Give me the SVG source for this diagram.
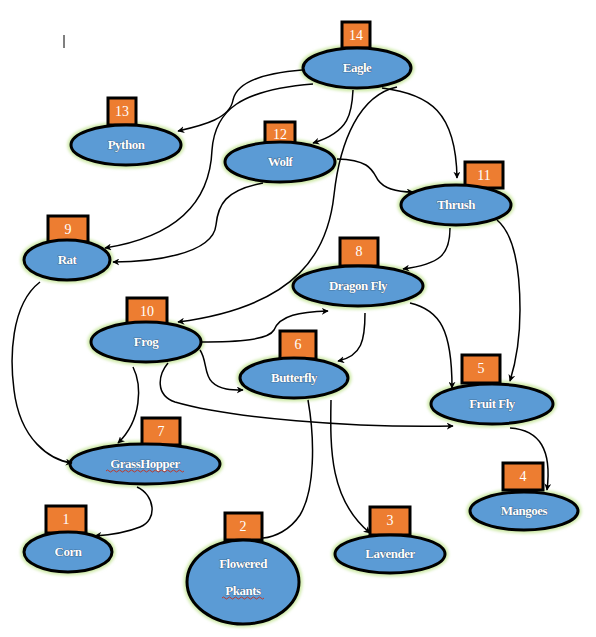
<svg xmlns="http://www.w3.org/2000/svg" width="596" height="637" viewBox="0 0 596 637">
  <style>
    .halo { fill: none; stroke: #cde9a6; stroke-width: 7; filter: url(#soft); }
    .oval { fill: #5b9bd5; stroke: #000; stroke-width: 3; }
    .tag { fill: #ed7d31; stroke: #000; stroke-width: 3; }
    .num { font-family: "Liberation Serif", serif; font-size: 14px; fill: #fff; text-anchor: middle; }
    .name { font-family: "Liberation Serif", serif; font-size: 13px; font-weight: bold; fill: #fff; text-anchor: middle; stroke: #2c4d70; stroke-width: 0.7; paint-order: stroke; letter-spacing: -0.5px; }
    .edge { fill: none; stroke: #000; stroke-width: 1.5; marker-end: url(#arrow); }
    .plain { fill: none; stroke: #000; stroke-width: 1.5; }
    .squiggle { fill: none; stroke: #c0392b; stroke-width: 1; }
  </style>
  <defs>
    <filter id="soft" x="-20%" y="-40%" width="140%" height="180%">
      <feGaussianBlur stdDeviation="1.5"/>
    </filter>
    <marker id="arrow" viewBox="0 0 10 10" refX="9" refY="5" markerWidth="7" markerHeight="7" markerUnits="userSpaceOnUse" orient="auto">
      <path d="M0,0 L10,5 L0,10 L3,5 Z" fill="#000"/>
    </marker>
  </defs>

  <rect width="596" height="637" fill="#fff"/>
  <line x1="64" y1="35" x2="64" y2="48" stroke="#000" stroke-width="1"/>

  <g id="eagle">
    <ellipse class="halo" cx="357" cy="68" rx="54" ry="20"/>
    <rect class="tag" x="342" y="22" width="28" height="26"/>
    <text class="num" x="356" y="40">14</text>
    <ellipse class="oval" cx="357" cy="68" rx="54" ry="20"/>
    <text class="name" x="357" y="72">Eagle</text>
  </g>

  <g id="python">
    <ellipse class="halo" cx="126" cy="145" rx="55" ry="20"/>
    <rect class="tag" x="108" y="98" width="28" height="27"/>
    <text class="num" x="122" y="116">13</text>
    <ellipse class="oval" cx="126" cy="145" rx="55" ry="20"/>
    <text class="name" x="126" y="149">Python</text>
  </g>

  <g id="wolf">
    <ellipse class="halo" cx="280" cy="162" rx="55" ry="20"/>
    <rect class="tag" x="265" y="122" width="30" height="25"/>
    <text class="num" x="280" y="139">12</text>
    <ellipse class="oval" cx="280" cy="162" rx="55" ry="20"/>
    <text class="name" x="280" y="166">Wolf</text>
  </g>

  <g id="thrush">
    <ellipse class="halo" cx="456" cy="205" rx="55" ry="20"/>
    <rect class="tag" x="465" y="162" width="38" height="26"/>
    <text class="num" x="484" y="180">11</text>
    <ellipse class="oval" cx="456" cy="205" rx="55" ry="20"/>
    <text class="name" x="456" y="209">Thrush</text>
  </g>

  <g id="rat">
    <ellipse class="halo" cx="67" cy="260" rx="43" ry="20"/>
    <rect class="tag" x="48" y="216" width="40" height="26"/>
    <text class="num" x="68" y="234">9</text>
    <ellipse class="oval" cx="67" cy="260" rx="43" ry="20"/>
    <text class="name" x="67" y="264">Rat</text>
  </g>

  <g id="dragonfly">
    <ellipse class="halo" cx="358" cy="286" rx="65" ry="20"/>
    <rect class="tag" x="340" y="238" width="38" height="28"/>
    <text class="num" x="359" y="256">8</text>
    <ellipse class="oval" cx="358" cy="286" rx="65" ry="20"/>
    <text class="name" x="358" y="290">Dragon Fly</text>
  </g>

  <g id="frog">
    <ellipse class="halo" cx="146" cy="342" rx="55" ry="20"/>
    <rect class="tag" x="127" y="298" width="40" height="26"/>
    <text class="num" x="147" y="316">10</text>
    <ellipse class="oval" cx="146" cy="342" rx="55" ry="20"/>
    <text class="name" x="146" y="346">Frog</text>
  </g>

  <g id="butterfly">
    <ellipse class="halo" cx="294" cy="378" rx="54" ry="20"/>
    <rect class="tag" x="280" y="331" width="36" height="28"/>
    <text class="num" x="298" y="349">6</text>
    <ellipse class="oval" cx="294" cy="378" rx="54" ry="20"/>
    <text class="name" x="294" y="382">Butterfly</text>
  </g>

  <g id="fruitfly">
    <ellipse class="halo" cx="492" cy="404" rx="61" ry="20"/>
    <rect class="tag" x="462" y="355" width="38" height="28"/>
    <text class="num" x="481" y="373">5</text>
    <ellipse class="oval" cx="492" cy="404" rx="61" ry="20"/>
    <text class="name" x="492" y="408">Fruit Fly</text>
  </g>

  <g id="grasshopper">
    <ellipse class="halo" cx="145" cy="464" rx="75" ry="20"/>
    <rect class="tag" x="142" y="418" width="38" height="27"/>
    <text class="num" x="161" y="436">7</text>
    <ellipse class="oval" cx="145" cy="464" rx="75" ry="20"/>
    <text class="name" x="145" y="468">GrassHopper</text>
    <path class="squiggle" d="M106,471 q1.5,-2 3,0 t3,0 t3,0 t3,0 t3,0 t3,0 t3,0 t3,0 t3,0 t3,0 t3,0 t3,0 t3,0 t3,0 t3,0 t3,0 t3,0 t3,0 t3,0 t3,0 t3,0 t3,0 t3,0 t3,0 t3,0 t3,0"/>
  </g>

  <g id="mangoes">
    <ellipse class="halo" cx="524" cy="511" rx="54" ry="19"/>
    <rect class="tag" x="503" y="463" width="40" height="27"/>
    <text class="num" x="523" y="481">4</text>
    <ellipse class="oval" cx="524" cy="511" rx="54" ry="19"/>
    <text class="name" x="524" y="515">Mangoes</text>
  </g>

  <g id="lavender">
    <ellipse class="halo" cx="390" cy="554" rx="55" ry="19"/>
    <rect class="tag" x="370" y="507" width="40" height="28"/>
    <text class="num" x="390" y="525">3</text>
    <ellipse class="oval" cx="390" cy="554" rx="55" ry="19"/>
    <text class="name" x="390" y="558">Lavender</text>
  </g>

  <g id="corn">
    <ellipse class="halo" cx="68" cy="552" rx="44" ry="20"/>
    <rect class="tag" x="46" y="506" width="40" height="27"/>
    <text class="num" x="66" y="524">1</text>
    <ellipse class="oval" cx="68" cy="552" rx="44" ry="20"/>
    <text class="name" x="68" y="556">Corn</text>
  </g>

  <g id="flowered-plants">
    <ellipse class="halo" cx="243" cy="582" rx="56" ry="42"/>
    <rect class="tag" x="225" y="513" width="37" height="27"/>
    <text class="num" x="243" y="531">2</text>
    <ellipse class="oval" cx="243" cy="582" rx="56" ry="42"/>
    <text class="name" x="243" y="568">Flowered</text>
    <text class="name" x="243" y="595">Pkants</text>
    <path class="squiggle" d="M222,598 q1.5,-2 3,0 t3,0 t3,0 t3,0 t3,0 t3,0 t3,0 t3,0 t3,0 t3,0 t3,0 t3,0 t3,0 t3,0"/>
  </g>

  <g id="connectors">
    <path class="edge" d="M302,70 C252,74 236,86 233,100 C230,118 205,125 178,131"/>
    <path class="edge" d="M313,84 C240,90 215,110 212,150 C210,200 180,236 105,248"/>
    <path class="edge" d="M353,90 C352,112 350,132 313,143"/>
    <path class="edge" d="M382,88 C430,94 456,112 457,178"/>
    <path class="edge" d="M397,87 C360,95 340,140 334,195 C328,250 300,306 178,322"/>
    <path class="edge" d="M337,159 C370,160 372,170 378,180 C385,190 400,192 413,192"/>
    <path class="edge" d="M263,183 C225,190 218,205 216,225 C213,255 150,262 113,262"/>
    <path class="edge" d="M450,228 C450,255 440,264 403,269"/>
    <path class="edge" d="M497,220 C515,235 520,270 520,310 C520,345 515,365 510,381"/>
    <path class="edge" d="M40,282 C10,305 10,360 14,390 C20,440 50,460 72,463"/>
    <path class="edge" d="M133,367 C142,385 142,420 118,443"/>
    <path class="edge" d="M200,342 C240,342 268,340 274,330 C280,315 300,312 328,311"/>
    <path class="edge" d="M200,350 C207,360 204,375 212,382 C220,390 232,390 243,390"/>
    <path class="edge" d="M168,363 C158,375 155,395 175,402 C230,418 350,428 453,426"/>
    <path class="edge" d="M365,313 C365,340 362,356 338,361"/>
    <path class="edge" d="M410,303 C440,310 452,330 452,388"/>
    <path class="plain" d="M308,400 C315,440 315,490 300,515 C290,530 275,537 263,538"/>
    <path class="edge" d="M331,400 C330,450 330,500 370,533"/>
    <path class="edge" d="M510,428 C540,430 552,450 547,490"/>
    <path class="edge" d="M137,487 C155,495 158,520 140,527 C125,533 110,535 95,536"/>
  </g>
</svg>
